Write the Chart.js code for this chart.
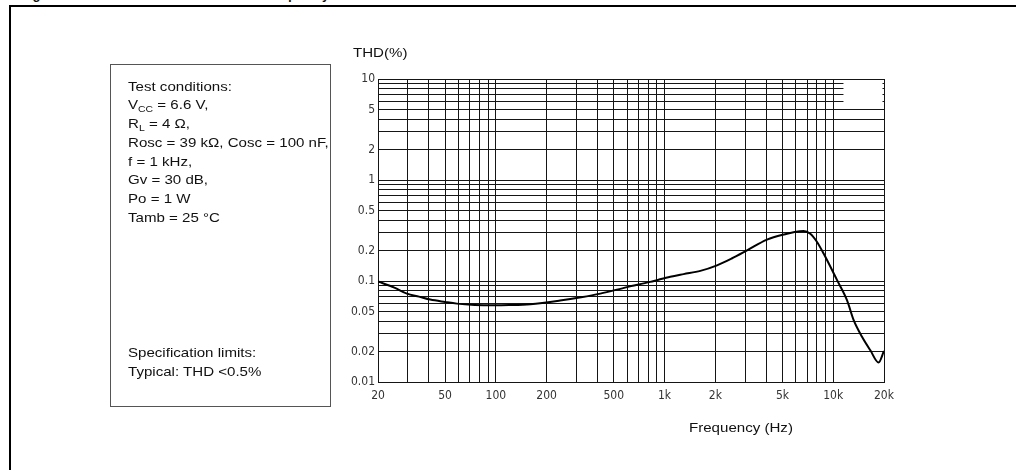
<!DOCTYPE html>
<html>
<head>
<meta charset="utf-8">
<script src="https://cdn.jsdelivr.net/npm/chart.js@4"></script>
<style>
  body { margin: 0; width: 1016px; height: 470px; overflow: hidden; background: #fff; position: relative; font-family: "Liberation Sans", Arial, sans-serif; color: #111; }
  #frame { position: absolute; left: 9px; top: 5px; width: 1100px; height: 600px; border-left: 2px solid #000; border-top: 2px solid #000; }
  #title { position: absolute; left: 21px; top: -13px; font: bold 13px/15px "Liberation Sans", Arial, sans-serif; white-space: nowrap; }
  #wrap { position: absolute; left: 0; top: 0; width: 1016px; height: 470px; }
  #cond { position: absolute; left: 110px; top: 64px; width: 221px; height: 343px; border: 1px solid #555; box-sizing: border-box; }
  .txt { position: absolute; font-size: 13px; line-height: 18.8px; white-space: nowrap; transform: scaleX(1.16); transform-origin: left center; }
  .txt div { height: 18.8px; }
  sub { font-size: 9px; line-height: 0; vertical-align: -3px; }
  #ytitle { left: 353px; top: 44px; }
  #xtitle { left: 689px; top: 419px; }
</style>
</head>
<body>
<div id="frame"></div>
<div id="title">Figure 10. Total harmonic distortion vs. frequency</div>
<div id="wrap"><canvas id="thdChart"></canvas></div>

<div id="cond">
  <div class="txt" style="left:17px; top:12.5px;">
    <div>Test conditions:</div>
    <div>V<sub>CC</sub> = 6.6 V,</div>
    <div>R<sub>L</sub> = 4 &Omega;,</div>
    <div>Rosc = 39 k&Omega;, Cosc = 100 nF,</div>
    <div>f = 1 kHz,</div>
    <div>Gv = 30 dB,</div>
    <div>Po = 1 W</div>
    <div>Tamb = 25 &deg;C</div>
  </div>
  <div class="txt" style="left:17px; top:279px;">
    <div>Specification limits:</div>
    <div>Typical: THD &lt;0.5%</div>
  </div>
</div>
<div class="txt" id="ytitle">THD(%)</div>
<div class="txt" id="xtitle">Frequency (Hz)</div>

<script>
// Curve (Hz, %)
const freqHz = [20, 25, 29.7, 35, 40.8, 50, 58.7, 75, 97, 120, 160, 240, 320, 416, 599, 822, 921, 1081, 1297, 1630, 2047, 2500, 3083, 4050, 5320, 5900, 6670, 7310, 8000, 8770, 10540, 12080, 13220, 14840, 16600, 18580, 20000];
const thdPct = [0.099, 0.086, 0.075, 0.07, 0.0655, 0.062, 0.0597, 0.058, 0.0575, 0.0578, 0.059, 0.064, 0.069, 0.075, 0.087, 0.098, 0.103, 0.11, 0.117, 0.126, 0.143, 0.167, 0.201, 0.257, 0.294, 0.306, 0.313, 0.294, 0.245, 0.187, 0.102, 0.0644, 0.041, 0.0279, 0.0206, 0.0156, 0.0203];

// Axis labels
const xTickValues = [20, 50, 100, 200, 500, 1000, 2000, 5000, 10000, 20000];
const xTickLabels = ["20", "50", "100", "200", "500", "1k", "2k", "5k", "10k", "20k"];
const yTickValues = [10, 5, 2, 1, 0.5, 0.2, 0.1, 0.05, 0.02, 0.01];
const yTickLabels = ["10", "5", "2", "1", "0.5", "0.2", "0.1", "0.05", "0.02", "0.01"];

const X_MIN = 20, X_MAX = 20000;
const Y_MIN = 0.01, Y_MAX = 10;

// log grid: 1..9 in each decade
function logGrid(min, max) {
  const out = [];
  for (let e = -3; e <= 5; e++) {
    for (let m = 1; m <= 9; m++) {
      const v = Number((m * Math.pow(10, e)).toPrecision(3));
      if (v >= min * 0.999 && v <= max * 1.001) out.push(v);
    }
  }
  if (out.indexOf(max) < 0) out.push(max);
  return out;
}

function labelFor(values, labels, v) {
  const i = values.findIndex(t => Math.abs(t - v) / t < 1e-6);
  return i >= 0 ? labels[i] : "";
}

const tickFont = { family: "'Liberation Sans Narrow', 'Arial Narrow', 'DejaVu Sans Condensed', sans-serif", size: 12 };
const gridColor = "#151515";

// blank patch in the upper-right corner of the plot
const cornerPatch = {
  id: "cornerPatch",
  beforeDatasetsDraw(chart) {
    const { ctx, chartArea, scales } = chart;
    const x0 = scales.x.getPixelForValue(11500);
    const y0 = scales.y.getPixelForValue(9.5);
    const y1 = scales.y.getPixelForValue(5.1);
    ctx.save();
    ctx.fillStyle = "#fff";
    ctx.fillRect(x0, y0, chartArea.right - 1.5 - x0, y1 - y0);
    ctx.restore();
  }
};

const ctx = document.getElementById("thdChart").getContext("2d");
new Chart(ctx, {
  type: "line",
  data: {
    datasets: [{
      data: freqHz.map((f, i) => ({ x: f, y: thdPct[i] })),
      borderColor: "#000",
      borderWidth: 2,
      pointRadius: 0,
      cubicInterpolationMode: "monotone",
      fill: false
    }]
  },
  options: {
    responsive: true,
    maintainAspectRatio: false,
    animation: false,
    layout: { padding: { left: 338, top: 79, right: 132, bottom: 63 } },
    plugins: { legend: { display: false }, tooltip: { enabled: false } },
    scales: {
      x: {
        type: "logarithmic",
        min: X_MIN,
        max: X_MAX,
        afterBuildTicks: axis => { axis.ticks = logGrid(X_MIN, X_MAX).map(v => ({ value: v })); },
        afterFit: axis => { axis.height = 25; },
        ticks: {
          autoSkip: false,
          maxRotation: 0,
          padding: 7,
          color: "#333",
          font: tickFont,
          callback: v => labelFor(xTickValues, xTickLabels, v)
        },
        grid: { color: gridColor, lineWidth: 1, drawTicks: false },
        border: { color: gridColor, width: 1 }
      },
      y: {
        type: "logarithmic",
        min: Y_MIN,
        max: Y_MAX,
        afterBuildTicks: axis => { axis.ticks = logGrid(Y_MIN, Y_MAX).map(v => ({ value: v })); },
        afterFit: axis => { axis.width = 40; },
        ticks: {
          autoSkip: false,
          padding: 3,
          color: "#333",
          font: tickFont,
          callback: v => labelFor(yTickValues, yTickLabels, v)
        },
        grid: { color: gridColor, lineWidth: 1, drawTicks: false },
        border: { color: gridColor, width: 1 }
      }
    }
  },
  plugins: [cornerPatch]
});
</script>
</body>
</html>
